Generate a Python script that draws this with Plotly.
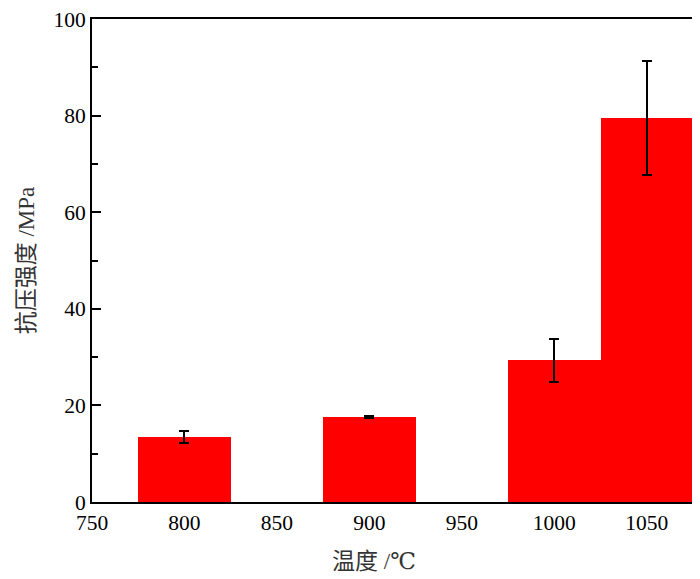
import plotly.graph_objects as go

# compressive strength vs sintering temperature
temps = [800, 900, 1000, 1050]
strength = [13.4, 17.6, 29.3, 79.6]
err = [1.2, 0.2, 4.5, 11.8]

x_ticks = [750, 800, 850, 900, 950, 1000, 1050]
y_ticks = [0, 20, 40, 60, 80, 100]

serif = "Liberation Serif, DejaVu Serif, Noto Sans CJK SC, serif"

trace = go.Bar(
    x=temps,
    y=strength,
    width=50,
    marker=dict(color='#ff0000', line=dict(width=0)),
    error_y=dict(type='data', array=err, visible=True,
                 color='black', thickness=2, width=5),
    showlegend=False)

# page body adds 8px offset, so figure is 692x571
layout = go.Layout(
    width=692, height=571,
    margin=dict(l=84, r=7, t=11, b=77),
    plot_bgcolor='white', paper_bgcolor='white',
    font=dict(family=serif, size=19, color='black'),
    bargap=0,
    xaxis=dict(range=[750, 1075], tickvals=x_ticks, ticks='',
               showline=True, linecolor='black', linewidth=2, mirror=True,
               showgrid=False, zeroline=False, automargin=False,
               ticklabeloverflow='allow',
               tickfont=dict(family=serif, size=21.5)),
    yaxis=dict(range=[0, 100], tickvals=y_ticks, ticks='inside', ticklen=9,
               tickwidth=2, tickcolor='black',
               minor=dict(ticks='inside', ticklen=6, tickwidth=2, tickcolor='black', dtick=10),
               showline=True, linecolor='black', linewidth=2, mirror=True,
               showgrid=False, zeroline=False, automargin=False,
               ticklabeloverflow='allow',
               title=dict(text='抗压强度 /MPa', font=dict(family=serif, size=23, color='#333'), standoff=12),
               tickfont=dict(family=serif, size=21.5)),
    annotations=[dict(text='温度 /℃', xref='paper', yref='paper', x=0.469, y=-0.124,
                      xanchor='center', yanchor='middle', showarrow=False,
                      font=dict(family=serif, size=23, color='#333'))])

fig = go.Figure([trace], layout)
fig.write_html("out.html")
